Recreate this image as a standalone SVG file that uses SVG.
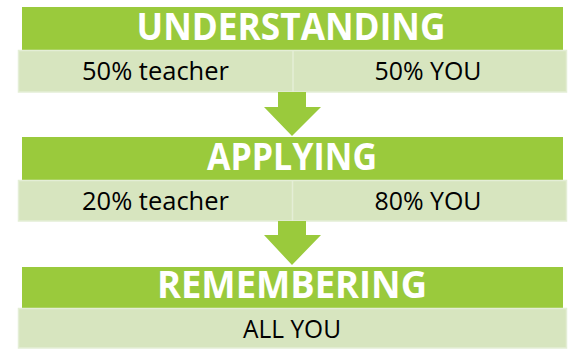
<svg xmlns="http://www.w3.org/2000/svg" width="570" height="351" viewBox="0 0 570 351">
  <style>
    .head { fill: #9aca3c; }
    .band { fill: #d7e5bf; stroke: #e4eed6; stroke-width: 1.5; }
    .divider { stroke: #e4eed6; stroke-width: 1.5; }
    .title { font-family: "Open Sans", "Liberation Sans", sans-serif; font-weight: bold; font-size: 37px; fill: #ffffff; text-anchor: middle; }
    .label { font-family: "Open Sans", "Liberation Sans", sans-serif; font-size: 25.5px; fill: #000000; text-anchor: middle; }
    .arrow { fill: #9aca3c; }
  </style>

  <!-- Stage 1 -->
  <g id="understanding">
    <rect class="head" x="22" y="7" width="541" height="43"/>
    <text class="title" x="291" y="40" textLength="309" lengthAdjust="spacingAndGlyphs">UNDERSTANDING</text>
    <rect class="band" x="18.5" y="50.5" width="548" height="41.5"/>
    <line class="divider" x1="293" y1="51" x2="293" y2="92"/>
    <text class="label" x="155.5" y="80" textLength="147" lengthAdjust="spacingAndGlyphs">50% teacher</text>
    <text class="label" x="428" y="80" textLength="107" lengthAdjust="spacingAndGlyphs">50% YOU</text>
  </g>

  <!-- Stage 2 -->
  <g id="applying">
    <rect class="head" x="22" y="137" width="541" height="43"/>
    <text class="title" x="292" y="170" textLength="170" lengthAdjust="spacingAndGlyphs">APPLYING</text>
    <rect class="band" x="18.5" y="180.5" width="548" height="40.5"/>
    <line class="divider" x1="292.5" y1="181" x2="292.5" y2="221"/>
    <text class="label" x="155.5" y="210" textLength="147" lengthAdjust="spacingAndGlyphs">20% teacher</text>
    <text class="label" x="428" y="210" textLength="107" lengthAdjust="spacingAndGlyphs">80% YOU</text>
  </g>

  <!-- Stage 3 -->
  <g id="remembering">
    <rect class="head" x="22" y="267" width="541" height="41"/>
    <text class="title" x="292" y="298" textLength="270" lengthAdjust="spacingAndGlyphs">REMEMBERING</text>
    <rect class="band" x="18.5" y="308.5" width="548" height="39.5"/>
    <text class="label" x="292" y="338" textLength="98" lengthAdjust="spacingAndGlyphs">ALL YOU</text>
  </g>

  <!-- Connectors -->
  <g id="connectors">
    <polygon class="arrow" points="278,92 306,92 306,107 321,107 292,136 264,107 278,107"/>
    <polygon class="arrow" points="278,221 306,221 306,235 321,235 292,265 264,235 278,235"/>
  </g>
</svg>
